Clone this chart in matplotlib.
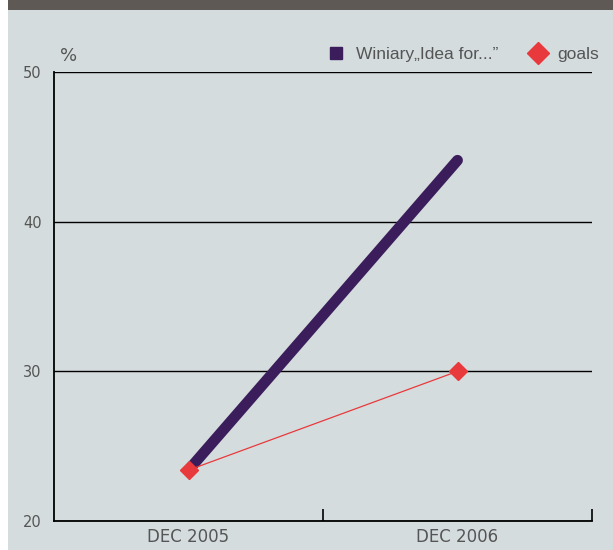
import matplotlib.pyplot as plt
from matplotlib.lines import Line2D
from matplotlib.patches import Rectangle

periods = ["DEC 2005", "DEC 2006"]
winiary = [23.4, 44.1]
goals = [23.4, 30.0]
y_ticks = [20, 30, 40, 50]

bg = "#d4dcdd"
purple = "#3a1d5a"
red = "#e8393c"
grey = "#555555"

fig = plt.figure(figsize=(6.13, 5.5), dpi=100)
fig.patch.set_facecolor("white")
fig.patches.append(Rectangle((8 / 613, 0), 1, 1, transform=fig.transFigure,
                             facecolor=bg, edgecolor="none", zorder=-2))
fig.patches.append(Rectangle((8 / 613, 1 - 10 / 550), 1, 10 / 550, transform=fig.transFigure,
                             facecolor="#5e5955", edgecolor="none", zorder=-1))

ax = fig.add_axes([54 / 613, 1 - 521 / 550, 538 / 613, 449 / 550])
ax.set_facecolor("none")

xs = [0.5, 1.5]
ax.plot(xs, winiary, color=purple, lw=7.8, solid_capstyle="round", zorder=3)
ax.plot(xs, goals, color=red, lw=0.9, marker="D", markersize=9, zorder=4)

ax.set_xlim(0, 2)
ax.set_ylim(20, 50)
ax.set_yticks(y_ticks)
ax.set_yticklabels([str(v) for v in y_ticks], color=grey, fontsize=10.5)
ax.set_xticks(xs)
ax.set_xticklabels(periods, color=grey, fontsize=12)
ax.set_xticks([1, 2], minor=True)
ax.tick_params(axis="x", which="major", length=0, pad=5)
ax.tick_params(axis="x", which="minor", direction="in", length=9, width=1.2, color="black")
ax.tick_params(axis="y", length=0, pad=9)
ax.grid(axis="y", color="black", lw=1)
ax.set_axisbelow(True)

for s in ["top", "right"]:
    ax.spines[s].set_visible(False)
for s in ["left", "bottom"]:
    ax.spines[s].set_linewidth(1.3)

ax.text(0.012, 1.015, "%", transform=ax.transAxes, fontsize=13, color=grey, va="bottom")

handles = [
    Line2D([], [], color=purple, marker="s", ls="none", markersize=8),
    Line2D([], [], color=red, marker="D", ls="none", markersize=11),
]
ax.legend(handles, ["Winiary\u201eIdea for...\u201d", "goals"], loc="lower right",
          bbox_to_anchor=(1.035, 0.995), ncol=2, frameon=False,
          prop={"family": ["Liberation Sans", "DejaVu Sans"], "size": 12.5},
          labelcolor=grey, handletextpad=0.1, columnspacing=1.3, borderpad=0.2)

fig.savefig("out.png", dpi=100, facecolor=fig.get_facecolor())
